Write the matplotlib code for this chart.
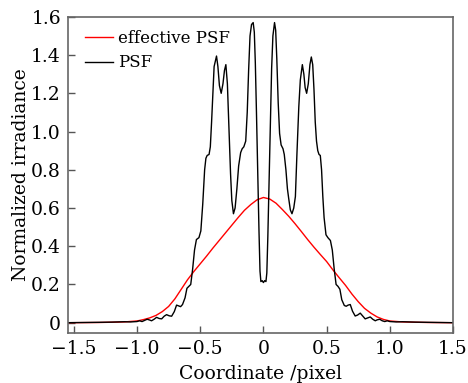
import matplotlib
matplotlib.use("Agg")
import matplotlib.pyplot as plt

# PSF (black)
psf_x = [-1.55, -1.4, -1.3, -1.2, -1.1, -1.05, -1.0, -0.98, -0.96, -0.94, -0.92, -0.90,
         -0.885, -0.865, -0.845, -0.825, -0.805, -0.785, -0.766, -0.745, -0.726, -0.705,
         -0.687, -0.67, -0.655, -0.64, -0.62, -0.605, -0.59, -0.575, -0.56, -0.545, -0.53,
         -0.51, -0.495, -0.48, -0.465, -0.455, -0.445, -0.43, -0.42, -0.41, -0.40, -0.39,
         -0.371, -0.36, -0.348, -0.334, -0.32, -0.308, -0.297, -0.285, -0.272, -0.26,
         -0.25, -0.237, -0.224, -0.21, -0.196, -0.18, -0.168, -0.155, -0.14, -0.128,
         -0.117, -0.106, -0.094, -0.081, -0.072, -0.064, -0.055, -0.045, -0.035, -0.027,
         -0.02, -0.01, 0.0, 0.01, 0.02, 0.027, 0.035, 0.045, 0.055, 0.065, 0.075, 0.088,
         0.097, 0.106, 0.117, 0.128, 0.14, 0.155, 0.165, 0.178, 0.19, 0.2, 0.213, 0.226,
         0.24, 0.253, 0.265, 0.28, 0.292, 0.308, 0.32, 0.33, 0.342, 0.355, 0.368, 0.379,
         0.39, 0.40, 0.41, 0.42, 0.43, 0.44, 0.45, 0.46, 0.47, 0.48, 0.495, 0.51, 0.53,
         0.545, 0.56, 0.575, 0.59, 0.605, 0.62, 0.64, 0.655, 0.67, 0.687, 0.705, 0.726,
         0.745, 0.766, 0.785, 0.805, 0.825, 0.845, 0.865, 0.885, 0.90, 0.92, 0.94, 0.96,
         0.98, 1.0, 1.05, 1.1, 1.2, 1.3, 1.4, 1.5]
psf_y = [0.0, 0.001, 0.002, 0.003, 0.005, 0.004, 0.006, 0.01, 0.006, 0.012, 0.018, 0.014,
         0.01, 0.018, 0.028, 0.022, 0.02, 0.034, 0.042, 0.036, 0.034, 0.058,
         0.092, 0.088, 0.084, 0.095, 0.13, 0.18, 0.19, 0.2, 0.28, 0.38, 0.435,
         0.445, 0.48, 0.62, 0.8, 0.86, 0.875, 0.88, 0.92, 1.05, 1.2, 1.34,
         1.395, 1.34, 1.24, 1.2, 1.25, 1.32, 1.35, 1.25, 1.0, 0.78,
         0.64, 0.57, 0.6, 0.7, 0.82, 0.89, 0.91, 0.92, 0.95, 1.1,
         1.32, 1.5, 1.56, 1.57, 1.52, 1.36, 1.1, 0.78, 0.48, 0.27,
         0.215, 0.22, 0.21, 0.22, 0.215, 0.26, 0.45, 0.75, 1.05, 1.33, 1.5, 1.57,
         1.53, 1.38, 1.15, 0.99, 0.93, 0.91, 0.88, 0.8, 0.7, 0.65, 0.59, 0.57,
         0.6, 0.66, 0.88, 1.13, 1.27, 1.35, 1.3, 1.23, 1.2, 1.25, 1.35, 1.39,
         1.35, 1.22, 1.05, 0.95, 0.9, 0.88, 0.875, 0.8, 0.66, 0.55, 0.46, 0.445, 0.43,
         0.38, 0.28, 0.2, 0.19, 0.175, 0.12, 0.09, 0.086, 0.092, 0.095, 0.06, 0.035,
         0.04, 0.05, 0.035, 0.02, 0.025, 0.03, 0.018, 0.01, 0.015, 0.018, 0.01, 0.006,
         0.01, 0.006, 0.004, 0.005, 0.003, 0.002, 0.001, 0.0]

# effective PSF (red)
eff_x = [-1.55, -1.3, -1.1, -1.0, -0.95, -0.9, -0.85, -0.8, -0.75, -0.7, -0.65, -0.6,
         -0.55, -0.5, -0.45, -0.4, -0.35, -0.3, -0.25, -0.2, -0.15, -0.1, -0.05, 0.0,
         0.05, 0.1, 0.15, 0.2, 0.25, 0.3, 0.35, 0.4, 0.45, 0.5, 0.55, 0.6, 0.65, 0.7,
         0.75, 0.8, 0.85, 0.9, 0.95, 1.0, 1.1, 1.3, 1.5]
eff_y = [0.0, 0.001, 0.004, 0.009, 0.016, 0.025, 0.038, 0.058, 0.085, 0.125, 0.175, 0.225,
         0.268, 0.308, 0.348, 0.39, 0.43, 0.47, 0.51, 0.55, 0.588, 0.618, 0.643, 0.655,
         0.647, 0.625, 0.592, 0.557, 0.518, 0.477, 0.435, 0.395, 0.357, 0.32, 0.276, 0.235, 0.195, 0.15,
         0.11, 0.075, 0.05, 0.03, 0.017, 0.009, 0.004, 0.001, 0.0]

xticks = [-1.5, -1.0, -0.5, 0, 0.5, 1.0, 1.5]
xticklabels = ["\u22121.5", "\u22121.0", "\u22120.5", "0", "0.5", "1.0", "1.5"]
yticks = [0, 0.2, 0.4, 0.6, 0.8, 1.0, 1.2, 1.4, 1.6]
yticklabels = ["0", "0.2", "0.4", "0.6", "0.8", "1.0", "1.2", "1.4", "1.6"]

plt.rcParams["font.family"] = "DejaVu Serif"
plt.rcParams["font.size"] = 13.5

fig = plt.figure(figsize=(4.68, 3.83), dpi=100)
ax = fig.add_axes([0.145, 0.131, 0.823, 0.825])

ax.plot(eff_x, eff_y, color="#ff0000", lw=1.0, label="effective PSF")
ax.plot(psf_x, psf_y, color="black", lw=1.0, label="PSF")

ax.set_xlim(-1.547, 1.5)
ax.set_ylim(-0.053, 1.6)
ax.set_xticks(xticks)
ax.set_xticklabels(xticklabels)
ax.set_yticks(yticks)
ax.set_yticklabels(yticklabels)
ax.tick_params(direction="in", length=5, width=1, color="#555555",
               top=False, right=False, pad=5, labelsize=13.5)
for s in ax.spines.values():
    s.set_color("#666666")
    s.set_linewidth(1.2)

ax.set_xlabel("Coordinate /pixel", fontsize=13.5, labelpad=5)
ax.set_ylabel("Normalized irradiance", fontsize=13.5, labelpad=1)

ax.legend(loc="upper left", frameon=False, fontsize=12, handlelength=1.7,
          handletextpad=0.3, labelspacing=0.45, borderaxespad=0.0,
          bbox_to_anchor=(0.027, 0.98))

fig.savefig("out.png", dpi=100)
